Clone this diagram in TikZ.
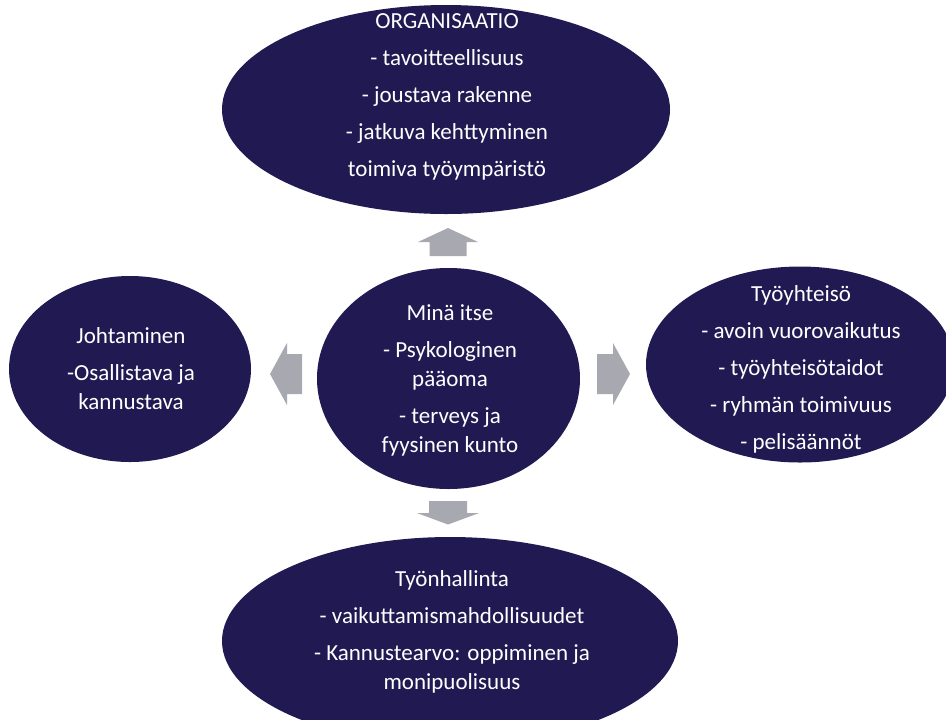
\documentclass[tikz,border=0pt]{standalone}
\usepackage{fontspec}
\setmainfont{Carlito}
\usetikzlibrary{shapes.geometric}
\definecolor{navy}{RGB}{33,26,82}
\definecolor{arrowgray}{RGB}{167,168,176}
\begin{document}
\begin{tikzpicture}[x=0.75pt,y=-0.75pt,
  blob/.style={ellipse, fill=navy, inner sep=0pt, outer sep=0pt},
  lbl/.style={text=white, align=center, inner sep=0pt,
    font=\fontsize{17.25}{21.75}\selectfont},
  blockarrow/.style={fill=arrowgray}]
\useasboundingbox (0,0) rectangle (946,719);
\fill[white] (0,0) rectangle (946,719);
\clip (0,0) rectangle (946,719);
% ellipses
\node[blob, minimum width=336pt, minimum height=156.75pt] (org) at (446,109.5) {};
\node[blob, minimum width=181.5pt, minimum height=139.5pt] (joht) at (130,369) {};
\node[blob, minimum width=197.25pt, minimum height=165.75pt] (mina) at (448.5,378.5) {};
\node[blob, minimum width=231pt, minimum height=147pt] (tyoy) at (800,364.5) {};
\node[blob, minimum width=342pt, minimum height=156pt] (tyon) at (450,641) {};
% texts
\node[lbl] (orgt) at (447,97) {ORGANISAATIO\\[6pt]- tavoitteellisuus\\[6pt]- joustava rakenne\\[6pt]- jatkuva kehttyminen\\[6pt]toimiva työympäristö};
\node[lbl] (johtt) at (131,368.5) {Johtaminen\\[6pt]-Osallistava ja\\kannustava};
\node[lbl] (minat) at (450,380) {Minä itse\\[6pt]- Psykologinen\\pääoma\\[6pt]- terveys ja\\fyysinen kunto};
\node[lbl] (tyoyt) at (801,369) {Työyhteisö\\[6pt]- avoin vuorovaikutus\\[6pt]- työyhteisötaidot\\[6pt]- ryhmän toimivuus\\[6pt]- pelisäännöt};
\node[lbl] (tyont) at (452,631.5) {Työnhallinta\\[6pt]- vaikuttamismahdollisuudet\\[6pt]- Kannustearvo: oppiminen ja\\monipuolisuus};
% block arrows
\fill[blockarrow] (448,228) -- (478,242) -- (466.5,242) -- (466.5,256) -- (429.5,256) -- (429.5,242) -- (418,242) -- cycle;
\fill[blockarrow] (448,524.5) -- (479,513) -- (467,513) -- (467,501) -- (429,501) -- (429,513) -- (417,513) -- cycle;
\fill[blockarrow] (630,374) -- (613,405) -- (613,394) -- (597,394) -- (597,354) -- (613,354) -- (613,343) -- cycle;
\fill[blockarrow] (270,374) -- (287,405) -- (287,394) -- (302,394) -- (302,354) -- (287,354) -- (287,343) -- cycle;
\end{tikzpicture}
\end{document}
